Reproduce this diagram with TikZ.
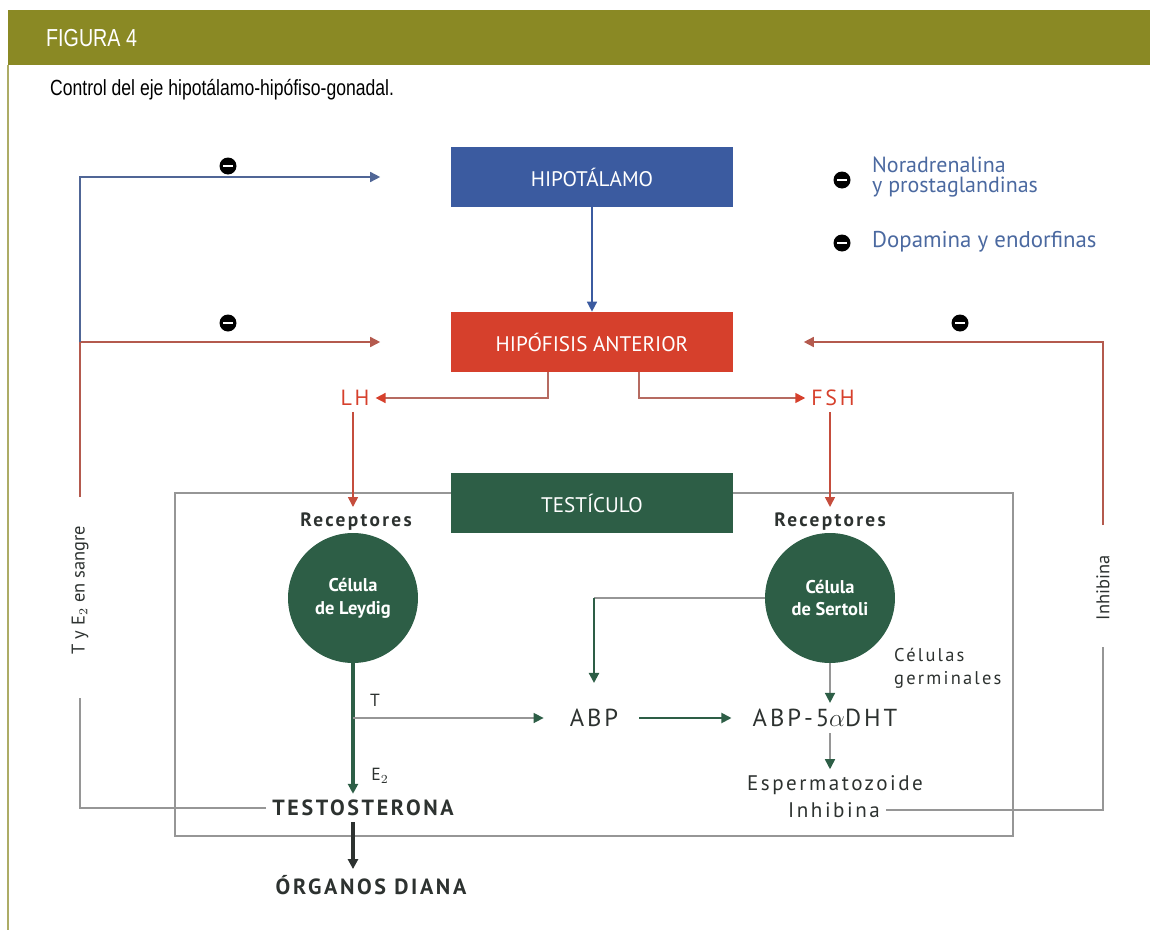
\documentclass[tikz,border=0pt]{standalone}
\usepackage{fontspec}
\setmainfont{PT Sans}
\newfontfamily\narrowfont[FakeStretch=0.8]{Liberation Sans}
\newfontfamily\spacedfont[LetterSpace=12]{PT Sans}
\usetikzlibrary{arrows.meta}
\definecolor{olive}{RGB}{138,137,36}
\definecolor{hipblue}{RGB}{59,91,160}
\definecolor{hipred}{RGB}{214,64,44}
\definecolor{testgreen}{RGB}{45,94,70}
\definecolor{legblue}{RGB}{75,105,160}
\definecolor{txtgray}{RGB}{45,50,48}
\definecolor{linegray}{RGB}{150,150,150}

\begin{document}
\begin{tikzpicture}[x=0.02cm,y=-0.02cm,
    organ/.style={rectangle,minimum width=5.66cm,minimum height=1.2cm,text=white,font=\fontsize{12}{14}\selectfont},
    cell/.style={circle,fill=testgreen,minimum size=2.6cm,text=white,align=center,font=\bfseries\fontsize{10.5}{13}\selectfont},
    lbl/.style={text=txtgray,font=\spacedfont\fontsize{11}{13}\selectfont},
    inhsym/.style={circle,fill=black,minimum size=0.34cm,inner sep=0pt,
        path picture={\draw[white,line width=1.3pt] ([xshift=-1mm]path picture bounding box.center) -- ([xshift=1mm]path picture bounding box.center);}},
    arr/.style={-{Triangle[length=2mm,width=2mm]}},
    garr/.style={-{Triangle[length=2mm,width=2mm,color=testgreen]}},
    fb/.style={linegray,line width=0.9pt}]
    \useasboundingbox (0,0) rectangle (1150,930);
    % cabecera
    \fill[olive] (8,10) rectangle (1150,65);
    \draw[olive!70,line width=0.8pt] (8,65) -- (8,930);
    \node[anchor=west,text=white,font=\narrowfont\fontsize{14}{16}\selectfont] (fig) at (40,38) {FIGURA 4};
    \node[anchor=west,font=\narrowfont\fontsize{12.5}{15}\selectfont] (tit) at (44,90) {Control del eje hipotálamo-hipófiso-gonadal.};

    % marco del testiculo
    \draw[linegray,line width=1.3pt] (175,493) rectangle (1013,836);

    \node[organ,fill=hipblue] (hipot) at (592,177) {HIPOTÁLAMO};
    \node[organ,fill=hipred] (hipof) at (592,342) {HIPÓFISIS ANTERIOR};
    \node[organ,fill=testgreen] (testic) at (592,503) {TESTÍCULO};

    \node[text=hipred,font=\spacedfont\fontsize{12.5}{14}\selectfont] (lh) at (355,398) {LH};
    \node[text=hipred,font=\spacedfont\fontsize{12.5}{14}\selectfont] (fsh) at (833,398) {FSH};

    \node[lbl,font=\spacedfont\bfseries\fontsize{11}{13}\selectfont] (recL) at (356,522) {Receptores};
    \node[lbl,font=\spacedfont\bfseries\fontsize{11}{13}\selectfont] (recS) at (830,522) {Receptores};
    \node[cell] (leydig) at (353,598) {Célula\\de Leydig};
    \node[cell] (sertoli) at (830,598) {Célula\\de Sertoli};
    \node[lbl,align=left,anchor=west,font=\spacedfont\fontsize{10.5}{13}\selectfont] (germ) at (888,668) {Células\\germinales};

    \node[lbl,font=\spacedfont\fontsize{14}{16}\selectfont] (abp) at (594,718) {ABP};
    \node[lbl,font=\spacedfont\fontsize{14}{16}\selectfont] (dht) at (825,718) {ABP-5$\alpha$DHT};
    \node[lbl,font=\spacedfont\fontsize{12}{14}\selectfont] (esp) at (835,785) {Espermatozoide};
    \node[lbl,font=\spacedfont\fontsize{12}{14}\selectfont] (inh) at (834,810) {Inhibina};
    \node[lbl,font=\spacedfont\bfseries\fontsize{12.5}{14}\selectfont] (testo) at (363,808) {TESTOSTERONA};
    \node[lbl,font=\spacedfont\bfseries\fontsize{12.5}{14}\selectfont] (diana) at (371,885) {ÓRGANOS DIANA};
    \node[text=txtgray,font=\fontsize{10}{12}\selectfont] (tlab) at (375,700) {T};
    \node[text=txtgray,font=\fontsize{10}{12}\selectfont] (elab) at (380,776) {E$_2$};

    % etiquetas verticales
    \node[rotate=90,text=txtgray,font=\fontsize{10.5}{12}\selectfont] (sangre) at (80,590) {T y E$_2$ en sangre};
    \node[rotate=90,text=txtgray,font=\fontsize{10.5}{12}\selectfont] (inhlab) at (1103,588) {Inhibina};

    % leyenda
    \node[inhsym] (s1) at (842,180) {};
    \node[anchor=west,align=left,text=legblue,font=\fontsize{12.5}{11}\selectfont] (nor) at (866,177) {Noradrenalina\\y prostaglandinas};
    \node[inhsym] (s2) at (842,243) {};
    \node[anchor=west,text=legblue,font=\fontsize{13}{15}\selectfont] (dop) at (866,242) {Dopamina y endorfinas};

    % eje
    \coordinate (lhOut) at ([xshift=-0.88cm]hipof.south);
    \coordinate (fshOut) at ([xshift=0.94cm]hipof.south);
    \draw[hipblue,line width=0.9pt,arr] (hipot) -- (hipof);
    \draw[hipred!50!linegray,line width=0.9pt,-{Triangle[length=2mm,width=2mm,color=hipred]}] (lhOut) |- (lh.east);
    \draw[hipred!50!linegray,line width=0.9pt,-{Triangle[length=2mm,width=2mm,color=hipred]}] (fshOut) |- (fsh.west);
    \draw[hipred!80!gray,line width=0.9pt,arr] (lh.south -| leydig) -- (recL.north -| leydig);
    \draw[hipred!80!gray,line width=0.9pt,arr] (fsh.south -| sertoli) -- (recS.north -| sertoli);

    % testiculo
    \coordinate (tsplit) at (leydig.south |- abp.west);
    \draw[testgreen,line width=1.8pt,arr] (leydig.south) -- (leydig.south |- testo.north);
    \draw[fb,garr,shorten >=0.4cm] (tsplit) -- (abp.west);
    \coordinate (sbend) at (abp.north |- sertoli.west);
    \draw[fb] (sertoli.west) -- (sbend);
    \draw[testgreen,line width=1.3pt,arr,shorten >=0.4cm] (sbend) -- (abp.north);
    \draw[testgreen,line width=1.1pt,arr,shorten >=0.3cm,shorten <=0.3cm] (abp) -- (dht);
    \draw[fb,garr] (sertoli.south) -- (sertoli.south |- dht.north);
    \draw[fb,garr] (dht.south -| sertoli) -- (esp.north -| sertoli);
    \draw[txtgray,line width=1.8pt,arr] (leydig.south |- testo.south) -- (leydig.south |- diana.north);

    % retroalimentacion
    \coordinate (sangreLow) at (80,698);
    \coordinate (sangreHigh) at (80,497);
    \coordinate (redIn) at ([xshift=-1.4cm]hipof.west);
    \coordinate (blueIn) at ([xshift=-1.4cm]hipot.west);
    \draw[fb] (testo.west) -| (sangreLow);
    \draw[hipred!60!gray,line width=0.9pt,arr] (sangreHigh) |- (redIn);
    \draw[hipblue!70!gray,line width=0.9pt,arr] (80,342) |- (blueIn);
    \node[inhsym] (m1) at (228,166) {};
    \node[inhsym] (m2) at (228,323) {};

    \coordinate (inhLow) at (1103,647);
    \coordinate (inhHigh) at (1103,525);
    \coordinate (redInR) at ([xshift=1.4cm]hipof.east);
    \draw[fb] (inh.east) -| (inhLow);
    \draw[hipred!60!gray,line width=0.9pt,arr] (inhHigh) |- (redInR);
    \node[inhsym] (m3) at (960,323) {};
\end{tikzpicture}
\end{document}
